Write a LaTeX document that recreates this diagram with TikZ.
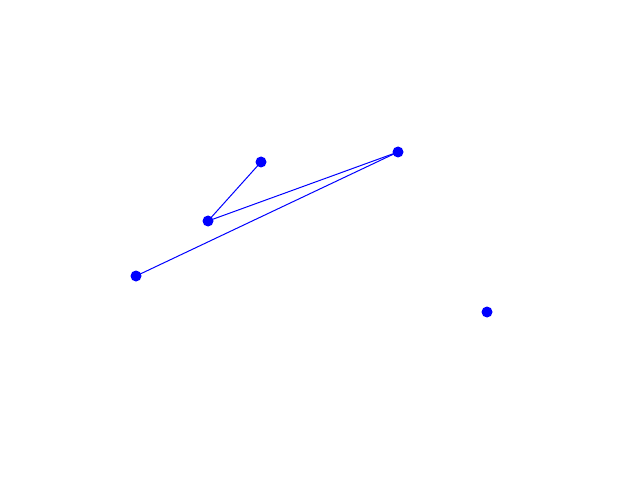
\documentclass[tikz,border=0pt]{standalone}
\begin{document}
\begin{tikzpicture}[x=0.5pt,y=-0.5pt,
  dot/.style={circle,fill=blue,inner sep=0pt,minimum size=5.5pt},
  edge/.style={draw=blue,line width=0.5pt}]
\useasboundingbox (0,0) rectangle (640,480);
\node[dot] (a) at (261,162) {};
\node[dot] (b) at (208,221) {};
\node[dot] (c) at (398,152) {};
\node[dot] (d) at (136,276) {};
\node[dot] (e) at (487,312) {};
\draw[edge] (a.center) -- (b.center);
\draw[edge] (b.center) -- (c.center);
\draw[edge] (c.center) -- (d.center);
\end{tikzpicture}
\end{document}
